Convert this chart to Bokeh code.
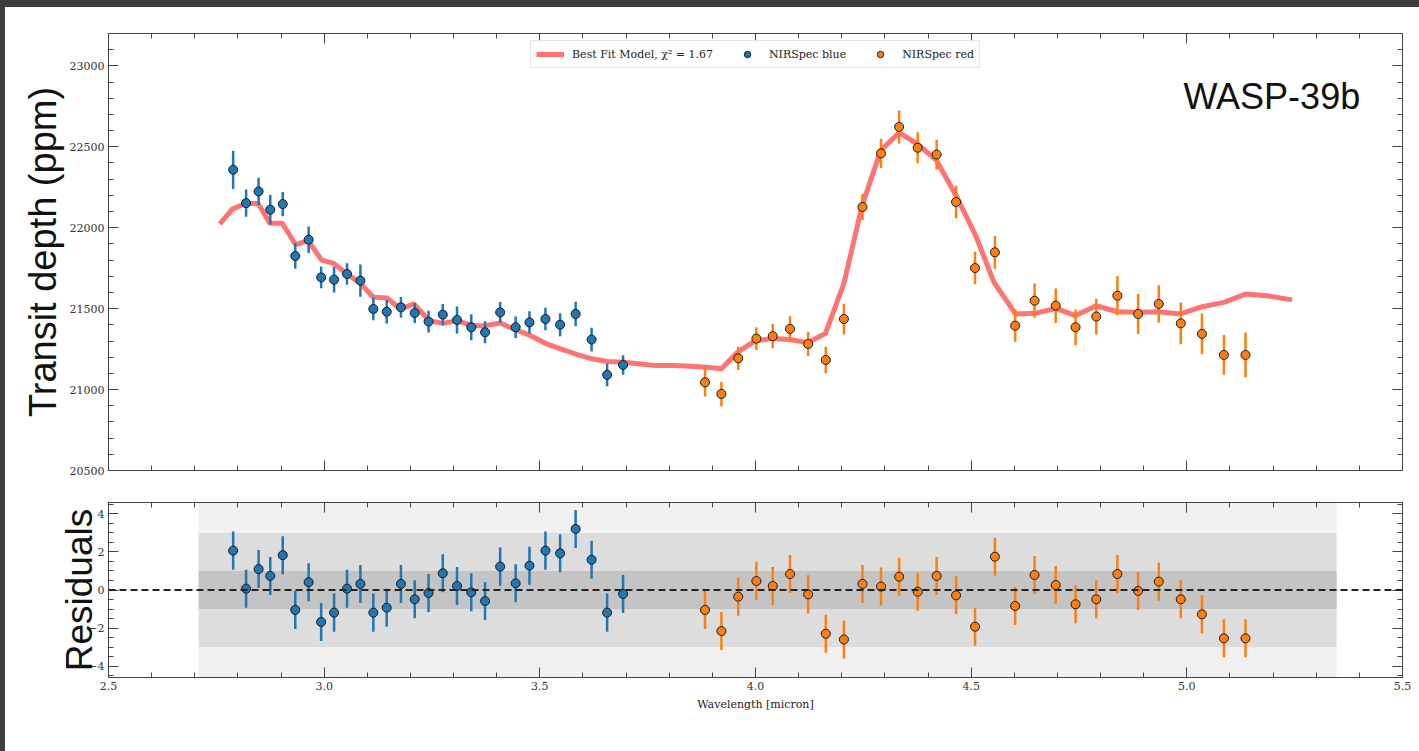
from bokeh.plotting import figure
from bokeh.models import (Range1d, LinearAxis, SingleIntervalTicker, Label, Legend, LegendItem,
                          Span, PrintfTickFormatter, CustomLabelingPolicy, Div)
from bokeh.layouts import column, row
from bokeh.embed import file_html
from bokeh.resources import INLINE

SERIF = "DejaVu Serif"
SANS = "Liberation Sans"

# ---------------- data ----------------
blue_wl = [2.789, 2.819, 2.848, 2.875, 2.904, 2.933, 2.964, 2.993, 3.023, 3.053, 3.084, 3.114,
           3.145, 3.178, 3.210, 3.242, 3.275, 3.308, 3.341, 3.373, 3.408, 3.444, 3.476, 3.513,
           3.547, 3.583, 3.620, 3.656, 3.693]
blue_depth = [22358, 22152, 22224, 22111, 22146, 21825, 21926, 21693, 21679, 21714, 21673, 21498,
              21481, 21508, 21473, 21420, 21463, 21430, 21385, 21354, 21477, 21385, 21415, 21436,
              21401, 21467, 21309, 21091, 21152]
blue_err = [118, 84, 84, 91, 75, 79, 82, 67, 79, 66, 99, 69, 72, 64, 62, 67, 65, 83, 80, 68,
            64, 66, 69, 69, 71, 75, 73, 70, 60]
blue_resid = [2.07, 0.07, 1.10, 0.74, 1.83, -1.05, 0.41, -1.68, -1.19, 0.07, 0.32, -1.19, -0.93,
              0.32, -0.49, -0.16, 0.88, 0.21, -0.12, -0.58, 1.23, 0.35, 1.28, 2.07, 1.93, 3.21,
              1.59, -1.19, -0.21]
blue_resid_err = [1.0, 1.0, 1.0, 1.0, 1.0, 1.0, 1.0, 1.0, 1.0, 1.0, 1.0, 1.0, 1.0, 1.0, 1.0,
                  1.0, 1.0, 1.0, 1.0, 1.0, 1.0, 1.0, 1.0, 1.0, 1.0, 1.0, 1.0, 1.0, 1.0]

red_wl = [3.883, 3.921, 3.960, 4.002, 4.040, 4.080, 4.122, 4.163, 4.205, 4.248, 4.291, 4.333,
          4.376, 4.420, 4.465, 4.509, 4.555, 4.602, 4.647, 4.696, 4.742, 4.790, 4.839, 4.887,
          4.935, 4.986, 5.035, 5.086, 5.136]
red_depth = [21045, 20973, 21193, 21315, 21330, 21375, 21282, 21183, 21436, 22128, 22459, 22623,
             22494, 22452, 22159, 21751, 21848, 21395, 21549, 21518, 21385, 21451, 21580, 21467,
             21529, 21409, 21344, 21214, 21214]
red_err = [88, 76, 72, 70, 75, 78, 75, 82, 95, 80, 90, 102, 96, 92, 101, 100, 101, 100, 106, 107,
           110, 110, 121, 123, 115, 129, 126, 123, 138]
red_resid = [-1.05, -2.16, -0.35, 0.47, 0.21, 0.84, -0.23, -2.30, -2.60, 0.32, 0.18, 0.70, -0.09,
             0.74, -0.28, -1.93, 1.75, -0.84, 0.79, 0.26, -0.75, -0.49, 0.84, -0.05, 0.44, -0.49,
             -1.28, -2.54, -2.54]
red_resid_err = [1.0, 1.0, 1.0, 1.0, 1.0, 1.0, 1.0, 1.0, 1.0, 1.0, 1.0, 1.0, 1.0, 1.0, 1.0,
                 1.0, 1.0, 1.0, 1.0, 1.0, 1.0, 1.0, 1.0, 1.0, 1.0, 1.0, 1.0, 1.0, 1.0]

model_wl = [2.758, 2.787, 2.818, 2.847, 2.874, 2.903, 2.934, 2.963, 2.994, 3.022, 3.053, 3.084,
            3.114, 3.146, 3.177, 3.208, 3.243, 3.275, 3.308, 3.343, 3.374, 3.409, 3.444, 3.474,
            3.513, 3.548, 3.587, 3.621, 3.656, 3.695, 3.733, 3.772, 3.811, 3.849, 3.888, 3.921,
            3.960, 4.000, 4.040, 4.079, 4.121, 4.162, 4.205, 4.247, 4.290, 4.333, 4.376, 4.420,
            4.465, 4.509, 4.553, 4.603, 4.648, 4.696, 4.742, 4.790, 4.839, 4.886, 4.935, 4.985,
            5.036, 5.086, 5.136, 5.186, 5.244]
model_depth = [22023, 22115, 22150, 22150, 22027, 22027, 21895, 21920, 21800, 21780, 21714, 21656,
               21570, 21566, 21498, 21529, 21426, 21409, 21426, 21395, 21395, 21411, 21368, 21339,
               21286, 21251, 21216, 21190, 21173, 21169, 21158, 21148, 21148, 21144, 21138, 21128,
               21235, 21302, 21315, 21309, 21290, 21346, 21656, 22136, 22475, 22588, 22517, 22414,
               22198, 21961, 21662, 21467, 21471, 21502, 21457, 21518, 21481, 21477, 21481, 21467,
               21512, 21539, 21590, 21580, 21554]

chi2_label = "Best Fit Model, χ² = 1.67"
planet = "WASP-39b"
band_wl = [2.709, 5.347]      # wavelength span of the shaded sigma bands
sigma_levels = [1, 3]

BLUE = "#1f77b4"
ORANGE = "#ff7f0e"
MODEL = "#ff7373"
AX = "#444444"
DARK = "#3d3d3d"

TOPBAR, LEFTBAR = 7, 5
W = 1419 - LEFTBAR
LB, RB = 108 - LEFTBAR, 17

NO_LABELS = CustomLabelingPolicy(code="""
    const ids = [...indices]
    for (const i of ids) { indices.unset(i) }
    return indices
""")


def add_axis(p, side, ticker, show_labels, formatter=None):
    ax = LinearAxis(ticker=ticker)
    if formatter is not None:
        ax.formatter = formatter
    ax.major_tick_in = 10
    ax.major_tick_out = 0
    ax.minor_tick_in = 5
    ax.minor_tick_out = 0
    ax.axis_line_color = AX
    ax.major_tick_line_color = AX
    ax.minor_tick_line_color = AX
    ax.major_label_text_font = SERIF
    ax.major_label_text_font_size = "11px"
    ax.major_label_text_color = "#333333"
    ax.major_label_standoff = 4
    if not show_labels:
        ax.major_label_policy = NO_LABELS
        ax.major_label_text_font_size = "1px"
        ax.major_label_standoff = 0
    p.add_layout(ax, side)
    return ax


def errbars(p, x, y, e, color):
    lo = [a - b for a, b in zip(y, e)]
    hi = [a + b for a, b in zip(y, e)]
    p.segment(x0=x, y0=lo, x1=x, y1=hi, line_color=color, line_width=2.5)
    return p.scatter(x=x, y=y, size=9, fill_color=color, line_color="#1a1a1a", line_width=1)


# ---------------- top panel ----------------
p1 = figure(width=W, height=486 - TOPBAR, x_range=Range1d(2.5, 5.5),
            y_range=Range1d(20500, 23200), output_backend="svg", toolbar_location=None,
            x_axis_location=None, y_axis_location=None, min_border_left=LB,
            min_border_right=RB, min_border_top=33 - TOPBAR, min_border_bottom=16)
p1.grid.visible = False
p1.outline_line_color = AX
p1.border_fill_color = "white"

xt1 = SingleIntervalTicker(interval=0.5, num_minor_ticks=5)
yt1 = SingleIntervalTicker(interval=500, num_minor_ticks=5)
yl1 = add_axis(p1, "left", yt1, True)
yl1.axis_label = "Transit depth (ppm)"
yl1.axis_label_text_font = SANS
yl1.axis_label_text_font_size = "38px"
yl1.axis_label_text_font_style = "normal"
yl1.axis_label_text_color = "#111111"
yl1.axis_label_standoff = 3
add_axis(p1, "right", yt1, False)
add_axis(p1, "below", xt1, False)
add_axis(p1, "above", xt1, False)

model_r = p1.line(model_wl, model_depth, line_color=MODEL, line_width=5)
blue_r = errbars(p1, blue_wl, blue_depth, blue_err, BLUE)
red_r = errbars(p1, red_wl, red_depth, red_err, ORANGE)

legend = Legend(items=[LegendItem(label=chi2_label, renderers=[model_r]),
                       LegendItem(label="NIRSpec blue", renderers=[blue_r]),
                       LegendItem(label="NIRSpec red", renderers=[red_r])],
                orientation="horizontal", location="top_center")
legend.label_text_font = SERIF
legend.label_text_font_size = "11px"
legend.label_text_color = "#222222"
legend.glyph_width = 28
legend.glyph_height = 16
legend.label_height = 16
legend.label_standoff = 8
legend.spacing = 20
legend.padding = 5
legend.margin = 7
legend.border_line_color = "#cccccc"
legend.background_fill_alpha = 0.85
p1.add_layout(legend)

p1.add_layout(Label(x=5.197, y=22809, text=planet, text_font=SANS, text_font_size="36px",
                    text_color="#111111", text_align="center", text_baseline="middle"))

# ---------------- bottom panel ----------------
p2 = figure(width=W, height=265, x_range=p1.x_range, y_range=Range1d(-4.6, 4.6),
            output_backend="svg", toolbar_location=None, x_axis_location=None,
            y_axis_location=None, min_border_left=LB, min_border_right=RB, min_border_top=16,
            min_border_bottom=74)
p2.grid.visible = False
p2.outline_line_color = AX
p2.border_fill_color = "white"

xt2 = SingleIntervalTicker(interval=0.5, num_minor_ticks=5)
yt2 = SingleIntervalTicker(interval=2, num_minor_ticks=4)
yl = add_axis(p2, "left", yt2, True)
yl.major_label_overrides = {-4: "−4", -2: "−2"}
yl.axis_label = "Residuals"
yl.axis_label_text_font = SANS
yl.axis_label_text_font_size = "37px"
yl.axis_label_text_font_style = "normal"
yl.axis_label_text_color = "#111111"
yl.axis_label_standoff = -15
add_axis(p2, "right", yt2, False)
xb = add_axis(p2, "below", xt2, True, PrintfTickFormatter(format="%.1f"))
xb.axis_label = "Wavelength [micron]"
xb.axis_label_text_font = SERIF
xb.axis_label_text_font_size = "11px"
xb.axis_label_text_font_style = "normal"
xb.axis_label_text_color = "#222222"
xb.axis_label_standoff = 5
add_axis(p2, "above", xt2, False)

p2.quad(left=band_wl[0], right=band_wl[1], bottom=-10, top=10, fill_color="#f0f0f0",
        line_color=None)
p2.quad(left=band_wl[0], right=band_wl[1], bottom=-sigma_levels[1], top=sigma_levels[1],
        fill_color="#dddddd", line_color=None)
p2.quad(left=band_wl[0], right=band_wl[1], bottom=-sigma_levels[0], top=sigma_levels[0],
        fill_color="#c4c4c4", line_color=None)
p2.add_layout(Span(location=0, dimension="width", line_color="#222222", line_width=2,
                   line_dash="7 4"))

errbars(p2, blue_wl, blue_resid, blue_resid_err, BLUE)
errbars(p2, red_wl, red_resid, red_resid_err, ORANGE)

top_bar = Div(text="", width=1419, height=TOPBAR, margin=0,
              styles={"background-color": DARK})
left_bar = Div(text="", width=LEFTBAR, height=751 - TOPBAR, margin=0,
               styles={"background-color": DARK})
layout = column(top_bar, row(left_bar, column(p1, p2, spacing=0), spacing=0), spacing=0)
open("out.html", "w").write(file_html(layout, INLINE))
